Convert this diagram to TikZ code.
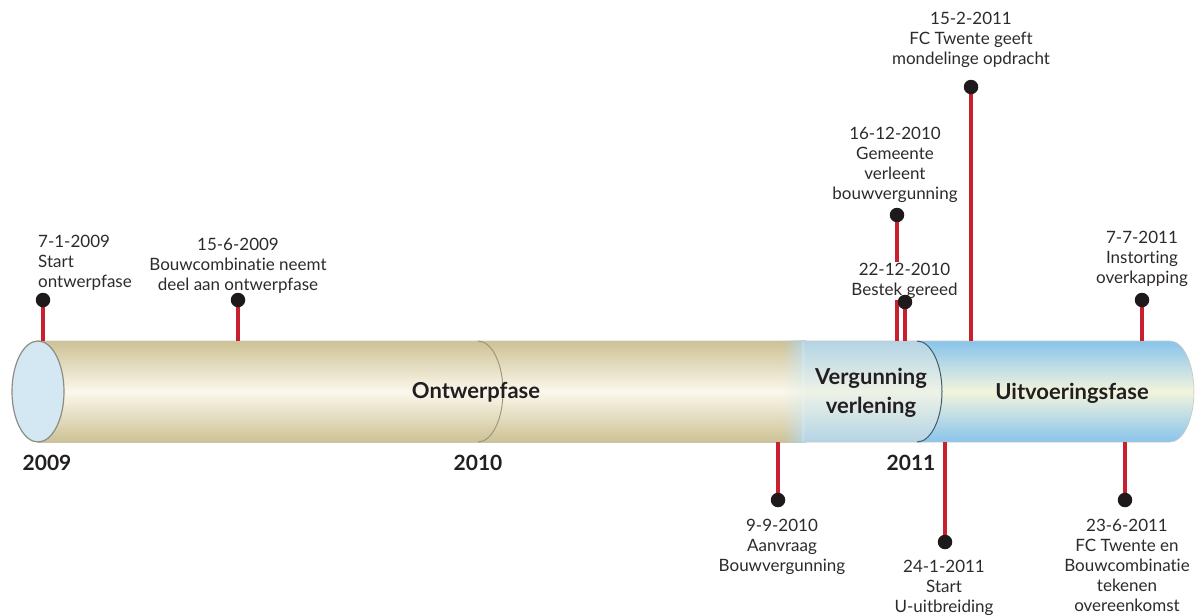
\documentclass[tikz,border=0pt]{standalone}
\usepackage{fontspec}
\setmainfont{Lato}[Ligatures={NoCommon,NoDiscretionary}]
\usetikzlibrary{fadings}
\definecolor{redline}{HTML}{C8202F}
\definecolor{dotblack}{HTML}{1E1A1B}
\definecolor{txtgrey}{HTML}{2E2A2B}
\definecolor{txtdark}{HTML}{231F20}
\definecolor{beigeedge}{HTML}{CDC194}
\definecolor{beigemid}{HTML}{FBF8EC}
\definecolor{midblueedge}{HTML}{B3D4E5}
\definecolor{midbluemid}{HTML}{EEF2E6}
\definecolor{blueedge}{HTML}{88C4EC}
\definecolor{bluemid}{HTML}{F2F4DC}
\definecolor{capfill}{HTML}{D4E8F4}
\definecolor{capedge}{HTML}{8E8C80}
\definecolor{arcbeige}{HTML}{9A9474}
\definecolor{arcblue}{HTML}{3E5C72}
\tikzfading[name=fadein, left color=transparent!100, right color=transparent!0]
\begin{document}
\begin{tikzpicture}[x=1pt,y=-1pt,
  redln/.style={draw=redline,line width=3.2pt},
  dot/.style={circle,fill=dotblack,inner sep=0pt,minimum size=14.5pt},
  lbl/.style={align=center,font=\fontsize{17}{20}\selectfont,text=txtgrey,inner sep=1pt,anchor=north},
  yr/.style={font=\bfseries\fontsize{21}{24}\selectfont,text=txtdark,inner sep=0pt,anchor=north},
  phase/.style={font=\bfseries\fontsize{22}{29}\selectfont,align=center,text=txtdark,inner sep=0pt},
  beige/.style={top color=beigeedge,bottom color=beigeedge,middle color=beigemid},
  midblue/.style={top color=midblueedge,bottom color=midblueedge,middle color=midbluemid},
  blue/.style={top color=blueedge,bottom color=blueedge,middle color=bluemid}
]
\useasboundingbox (0,0) rectangle (1195,614);

% cylinder body
\shade[beige] (38,341) rectangle (802,442);
\shade[blue] (917,341) -- (1170,341) arc (-90:90:24 and 50.5) -- (917,442) -- cycle;
\shade[midblue,path fading=fadein] (782,341) rectangle (806,442);
\shade[midblue] (805,341) -- (917,341) arc (-90:90:25 and 50.5) -- (805,442) -- cycle;
\draw[black!22,line width=0.6pt] (38,341) -- (1170,341) arc (-90:90:24 and 50.5) -- (38,442);
% section boundaries
\draw[arcbeige,line width=0.9pt] (478,341) arc (-90:90:25 and 50.5);
\draw[arcblue,line width=1pt] (917,341) arc (-90:90:25 and 50.5);
% left end cap
\draw[fill=capfill,draw=capedge,line width=1.2pt] (38,391.5) ellipse (26 and 50.5);

% years
\node[yr] (y2009) at (47,455) {2009};
\node[yr] (y2010) at (478,455) {2010};
\node[yr] (y2011) at (911,455) {2011};

% phases
\node[phase,anchor=base] (pOntwerp) at (476,398) {Ontwerpfase};
\node[phase,anchor=north] (pVerg) at (871,368) {Vergunning\\verlening};
\node[phase,anchor=base] (pUit) at (1072,399) {Uitvoeringsfase};

% anchor points on cylinder
\coordinate (t0701) at (43,341);
\coordinate (t1506) at (238,341);
\coordinate (t1612) at (897,341);
\coordinate (t2212) at (905,341);
\coordinate (t1502) at (971,341);
\coordinate (t0707) at (1142,341);
\coordinate (b0909) at (778,442);
\coordinate (b2401) at (945,442);
\coordinate (b2306) at (1125,442);

% dot positions
\coordinate (c0701) at (43,300);
\coordinate (c1506) at (238,300);
\coordinate (c1612) at (897,215);
\coordinate (c2212) at (905,302);
\coordinate (c1502) at (971,87);
\coordinate (c0707) at (1142,300);
\coordinate (c0909) at (778,500);
\coordinate (c2401) at (945,542);
\coordinate (c2306) at (1125,500);

% red connectors
\draw[redln] (c0701) -- (t0701);
\draw[redln] (c1506) -- (t1506);
\draw[redln] (c1612) -- (t1612);
\draw[redln] (c2212) -- (t2212);
\draw[redln] (c1502) -- (t1502);
\draw[redln] (c0707) -- (t0707);
\draw[redln] (b0909) -- (c0909);
\draw[redln] (b2401) -- (c2401);
\draw[redln] (b2306) -- (c2306);

% labels
\node[lbl,anchor=north west,align=left] (l0701) at (37,234) {7-1-2009\\Start\\ontwerpfase};
\node[lbl] (l1506) at (238,237) {15-6-2009\\Bouwcombinatie neemt\\deel aan ontwerpfase};
\node[lbl] (l1612) at (895,126) {16-12-2010\\Gemeente\\verleent\\bouwvergunning};
\node[lbl,fill=white] (l2212) at (904.5,262) {22-12-2010\\Bestek gereed};
\node[lbl] (l1502) at (971,11) {15-2-2011\\FC Twente geeft\\mondelinge opdracht};
\node[lbl] (l0707) at (1142,230) {7-7-2011\\Instorting\\overkapping};
\node[lbl] (l0909) at (782,518) {9-9-2010\\Aanvraag\\Bouwvergunning};
\node[lbl] (l2401) at (944,559) {24-1-2011\\Start\\U-uitbreiding};
\node[lbl] (l2306) at (1127,518) {23-6-2011\\FC Twente en\\Bouwcombinatie\\tekenen\\overeenkomst};

% dots
\node[dot] (d0701) at (c0701) {};
\node[dot] (d1506) at (c1506) {};
\node[dot] (d1612) at (c1612) {};
\node[dot] (d2212) at (c2212) {};
\node[dot] (d1502) at (c1502) {};
\node[dot] (d0707) at (c0707) {};
\node[dot] (d0909) at (c0909) {};
\node[dot] (d2401) at (c2401) {};
\node[dot] (d2306) at (c2306) {};
\end{tikzpicture}
\end{document}
